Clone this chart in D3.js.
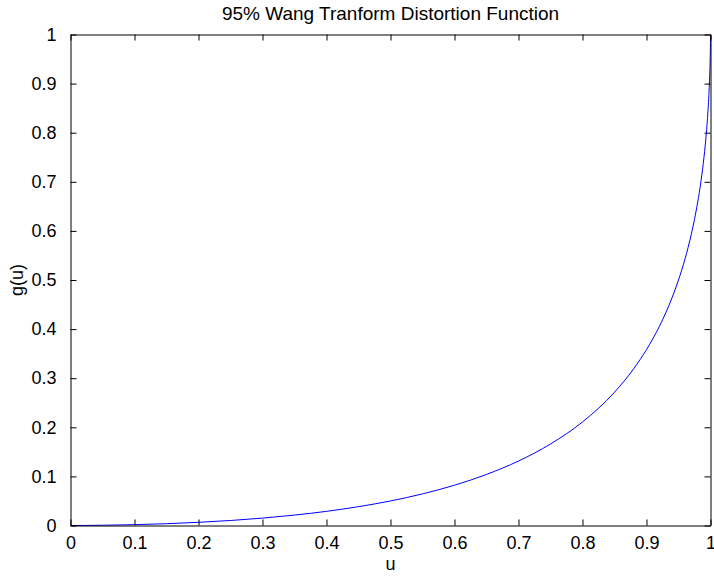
<!DOCTYPE html>
<html>
<head>
<meta charset="utf-8">
<script src="https://cdn.jsdelivr.net/npm/d3@7"></script>
<style>
  html, body { margin: 0; padding: 0; background: #fff; }
  svg { display: block; }
  text { font-family: Arial, "Liberation Sans", Helvetica, sans-serif; fill: #000; }
</style>
</head>
<body>
<script>
// Distortion curve samples: probability level u and distorted value g(u)
const uValues = [0, 0.001, 0.01, 0.02, 0.05, 0.1, 0.15, 0.2, 0.25, 0.3, 0.35, 0.4, 0.45, 0.5,
  0.55, 0.6, 0.65, 0.7, 0.75, 0.8, 0.85, 0.88, 0.9, 0.92, 0.94, 0.95, 0.955, 0.96, 0.965,
  0.97, 0.975, 0.98, 0.985, 0.99, 0.993, 0.995, 0.998, 0.999, 0.9995, 0.9999, 1];
const gValues = [0, 0.000001, 0.000036, 0.000108, 0.0005, 0.00171, 0.00367, 0.00646, 0.0102,
  0.01505, 0.0212, 0.02883, 0.03836, 0.05, 0.06441, 0.08206, 0.104, 0.1313, 0.166, 0.2109,
  0.2714, 0.3193, 0.3583, 0.4052, 0.4641, 0.5, 0.5201, 0.5421, 0.5663, 0.5932, 0.6237,
  0.6587, 0.7002, 0.7521, 0.7917, 0.824, 0.8913, 0.9258, 0.9501, 0.981, 1];

const xTicks = [0, 0.1, 0.2, 0.3, 0.4, 0.5, 0.6, 0.7, 0.8, 0.9, 1];
const yTicks = [0, 0.1, 0.2, 0.3, 0.4, 0.5, 0.6, 0.7, 0.8, 0.9, 1];
const xTickLabels = ["0", "0.1", "0.2", "0.3", "0.4", "0.5", "0.6", "0.7", "0.8", "0.9", "1"];
const yTickLabels = ["0", "0.1", "0.2", "0.3", "0.4", "0.5", "0.6", "0.7", "0.8", "0.9", "1"];

const titleText = "95% Wang Tranform Distortion Function";
const xLabelText = "u";
const yLabelText = "g(u)";

const W = 714, H = 577;
const plotLeft = 70.5, plotRight = 710.5, plotTop = 34.5, plotBottom = 525.5;
const fontSize = 18;
const titleSize = 19;
const tickLen = 6;

const svg = d3.select("body").append("svg")
  .attr("width", W).attr("height", H)
  .style("background", "#fff");

const x = d3.scaleLinear().domain([0, 1]).range([plotLeft, plotRight]);
const y = d3.scaleLinear().domain([0, 1]).range([plotBottom, plotTop]);

// Curve
const pts = uValues.map((u, i) => [u, gValues[i]]);
svg.append("path")
  .datum(pts)
  .attr("fill", "none")
  .attr("stroke", "#0000ff")
  .attr("stroke-width", 1)
  .attr("d", d3.line().x(d => x(d[0])).y(d => y(d[1])).curve(d3.curveMonotoneX));

// Axes with inward ticks on all four sides
const fmtX = (d, i) => xTickLabels[i];
const fmtY = (d, i) => yTickLabels[i];

const gBottom = svg.append("g").attr("transform", `translate(0,${plotBottom})`)
  .call(d3.axisBottom(x).tickValues(xTicks).tickFormat(fmtX).tickSizeInner(-tickLen).tickSizeOuter(0).tickPadding(tickLen + 5));
const gTop = svg.append("g").attr("transform", `translate(0,${plotTop})`)
  .call(d3.axisTop(x).tickValues(xTicks).tickFormat("").tickSizeInner(-tickLen).tickSizeOuter(0));
const gLeft = svg.append("g").attr("transform", `translate(${plotLeft},0)`)
  .call(d3.axisLeft(y).tickValues(yTicks).tickFormat(fmtY).tickSizeInner(-tickLen).tickSizeOuter(0).tickPadding(tickLen + 8));
const gRight = svg.append("g").attr("transform", `translate(${plotRight},0)`)
  .call(d3.axisRight(y).tickValues(yTicks).tickFormat("").tickSizeInner(-tickLen).tickSizeOuter(0));

[gBottom, gTop, gLeft, gRight].forEach(g => {
  g.selectAll(".domain").attr("stroke", "#000").attr("stroke-width", 1);
  g.selectAll(".tick line").attr("stroke", "#000").attr("stroke-width", 1);
  g.selectAll("text").style("font-size", fontSize + "px")
    .style("font-family", "Arial, 'Liberation Sans', Helvetica, sans-serif").attr("fill", "#000");
});

// Title and axis labels
svg.append("text")
  .attr("x", (plotLeft + plotRight) / 2).attr("y", 20)
  .attr("text-anchor", "middle")
  .style("font-size", titleSize + "px")
  .text(titleText);

svg.append("text")
  .attr("x", (plotLeft + plotRight) / 2).attr("y", 570)
  .attr("text-anchor", "middle")
  .style("font-size", fontSize + "px")
  .text(xLabelText);

svg.append("text")
  .attr("transform", `translate(23,${(plotTop + plotBottom) / 2}) rotate(-90)`)
  .attr("text-anchor", "middle")
  .style("font-size", fontSize + "px")
  .text(yLabelText);
</script>
</body>
</html>
